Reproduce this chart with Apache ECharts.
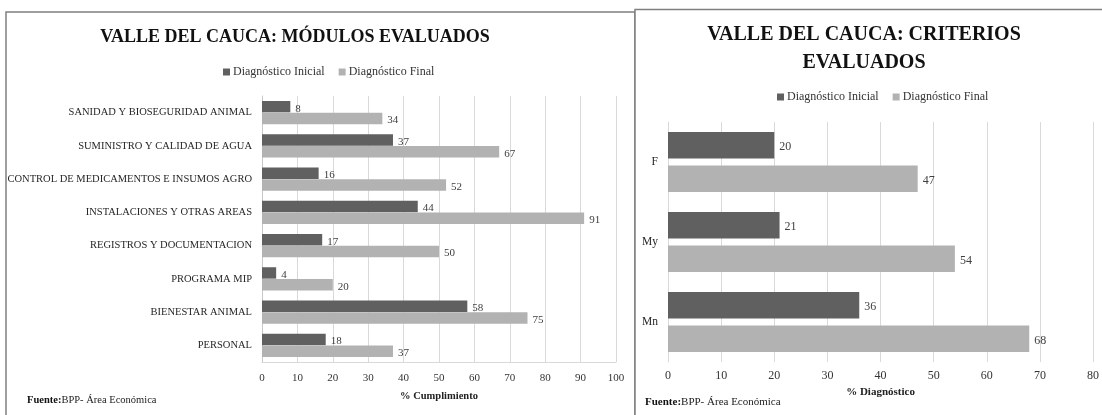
<!DOCTYPE html>
<html>
<head>
<meta charset="utf-8">
<script src="https://cdn.jsdelivr.net/npm/echarts@6/dist/echarts.min.js"></script>
<style>
html,body{margin:0;padding:0;background:#fff;}
#chart{width:1102px;height:415px;}
</style>
</head>
<body>
<div id="chart"></div>
<script>
// ---- Data ----
const modCategories = [
  'SANIDAD Y BIOSEGURIDAD ANIMAL',
  'SUMINISTRO Y CALIDAD DE AGUA',
  'CONTROL DE MEDICAMENTOS E INSUMOS AGRO',
  'INSTALACIONES Y OTRAS AREAS',
  'REGISTROS Y DOCUMENTACION',
  'PROGRAMA MIP',
  'BIENESTAR ANIMAL',
  'PERSONAL'
];
const modInicial = [8, 37, 16, 44, 17, 4, 58, 18];
const modFinal = [34, 67, 52, 91, 50, 20, 75, 37];

const critCategories = ['F', 'My', 'Mn'];
const critInicial = [20, 21, 36];
const critFinal = [47, 54, 68];

const seriesNames = ['Diagnóstico Inicial', 'Diagnóstico Final'];
const titleLeft = 'VALLE DEL CAUCA: MÓDULOS EVALUADOS';
const titleRight = 'VALLE DEL CAUCA: CRITERIOS\nEVALUADOS';
const axisNameLeft = '% Cumplimiento';
const axisNameRight = '% Diagnóstico';
const sourceBold = 'Fuente:';
const sourceText = 'BPP- Área Económica';

// ---- Styles ----
const FONT = '"Liberation Serif", "Times New Roman", serif';
const DARK = '#606060';
const LIGHT = '#b2b2b2';
const TXT = '#262626';
const GRID = '#d9d9d9';

const chart = echarts.init(document.getElementById('chart'), null, {renderer: 'canvas'});

function barSeries(name, data, idx, color, labelSize, catGap, barGap) {
  return {
    name: name,
    type: 'bar',
    xAxisIndex: idx,
    yAxisIndex: idx,
    data: data,
    barCategoryGap: catGap,
    barGap: barGap,
    itemStyle: {color: color},
    label: {
      show: true,
      position: 'right',
      distance: 5,
      offset: [0, 2],
      fontFamily: FONT,
      fontSize: labelSize,
      color: '#404040'
    },
    emphasis: {disabled: true},
    animation: false
  };
}

const option = {
  backgroundColor: '#ffffff',
  animation: false,
  textStyle: {fontFamily: FONT},
  title: [
    {
      text: titleLeft,
      left: 295, top: 27, textAlign: 'center', padding: 0,
      textStyle: {fontFamily: FONT, fontSize: 18, fontWeight: 'bold', color: '#111', lineHeight: 20}
    },
    {
      text: titleRight,
      left: 864, top: 21, textAlign: 'center', padding: 0,
      textStyle: {fontFamily: FONT, fontSize: 20, fontWeight: 'bold', color: '#111', lineHeight: 28}
    }
  ],
  legend: [
    {
      data: seriesNames, left: 223, top: 66, padding: 0,
      icon: 'rect', itemWidth: 7, itemHeight: 7, itemGap: 14,
      textStyle: {fontFamily: FONT, fontSize: 12, color: '#333', padding: [0, 0, 0, -2]}
    },
    {
      data: seriesNames, left: 777, top: 91, padding: 0,
      icon: 'rect', itemWidth: 7, itemHeight: 7, itemGap: 14,
      textStyle: {fontFamily: FONT, fontSize: 12, color: '#333', padding: [0, 0, 0, -2]}
    }
  ],
  grid: [
    {left: 262, top: 96, width: 354, height: 266, containLabel: false},
    {left: 668, top: 122, width: 429, height: 240, containLabel: false}
  ],
  xAxis: [
    {
      gridIndex: 0, type: 'value', min: 0, max: 100, interval: 10,
      axisLine: {show: true, lineStyle: {color: GRID}},
      axisTick: {show: false},
      splitLine: {show: true, lineStyle: {color: GRID}},
      axisLabel: {fontFamily: FONT, fontSize: 11, color: '#333', margin: 11},
      name: axisNameLeft, nameLocation: 'middle', nameGap: 29,
      nameTextStyle: {fontFamily: FONT, fontSize: 10.5, fontWeight: 'bold', color: '#222'}
    },
    {
      gridIndex: 1, type: 'value', min: 0, max: 80, interval: 10,
      axisLine: {show: false},
      axisTick: {show: false},
      splitLine: {show: true, lineStyle: {color: GRID}},
      axisLabel: {fontFamily: FONT, fontSize: 12, color: '#333', margin: 8},
      name: axisNameRight, nameLocation: 'middle', nameGap: 22,
      nameTextStyle: {fontFamily: FONT, fontSize: 11, fontWeight: 'bold', color: '#222'}
    }
  ],
  yAxis: [
    {
      gridIndex: 0, type: 'category', data: modCategories, inverse: true,
      axisLine: {show: true, lineStyle: {color: '#c8c8c8'}},
      axisTick: {show: false},
      axisLabel: {fontFamily: FONT, fontSize: 10.5, color: TXT, margin: 10}
    },
    {
      gridIndex: 1, type: 'category', data: critCategories, inverse: true,
      axisLine: {show: true, lineStyle: {color: GRID}},
      axisTick: {show: false},
      axisLabel: {fontFamily: FONT, fontSize: 11.5, color: TXT, margin: 10}
    }
  ],
  series: [
    barSeries(seriesNames[0], modInicial, 0, DARK, 11, '30%', '4%'),
    barSeries(seriesNames[1], modFinal, 0, LIGHT, 11, '30%', '4%'),
    barSeries(seriesNames[0], critInicial, 1, DARK, 12, '25%', '26%'),
    barSeries(seriesNames[1], critFinal, 1, LIGHT, 12, '25%', '26%')
  ],
  graphic: [
    {
      type: 'rect', silent: true, z: -1,
      shape: {x: 6, y: 12, width: 629, height: 430},
      style: {fill: 'none', stroke: '#7f7f7f', lineWidth: 1.5}
    },
    {
      type: 'rect', silent: true, z: -1,
      shape: {x: 635, y: 9.5, width: 500, height: 430},
      style: {fill: '#fff', stroke: '#7f7f7f', lineWidth: 1.5}
    },
    {
      type: 'text', silent: true, x: 27, y: 400,
      style: {
        text: '{b|' + sourceBold + '}{r|' + sourceText + '}',
        verticalAlign: 'middle',
        rich: {
          b: {fontFamily: FONT, fontSize: 10.5, fontWeight: 'bold', fill: '#111'},
          r: {fontFamily: FONT, fontSize: 10.5, fill: '#222'}
        }
      }
    },
    {
      type: 'text', silent: true, x: 645, y: 402,
      style: {
        text: '{b|' + sourceBold + '}{r|' + sourceText + '}',
        verticalAlign: 'middle',
        rich: {
          b: {fontFamily: FONT, fontSize: 11, fontWeight: 'bold', fill: '#111'},
          r: {fontFamily: FONT, fontSize: 11, fill: '#222'}
        }
      }
    }
  ]
};

chart.setOption(option);
</script>
</body>
</html>
